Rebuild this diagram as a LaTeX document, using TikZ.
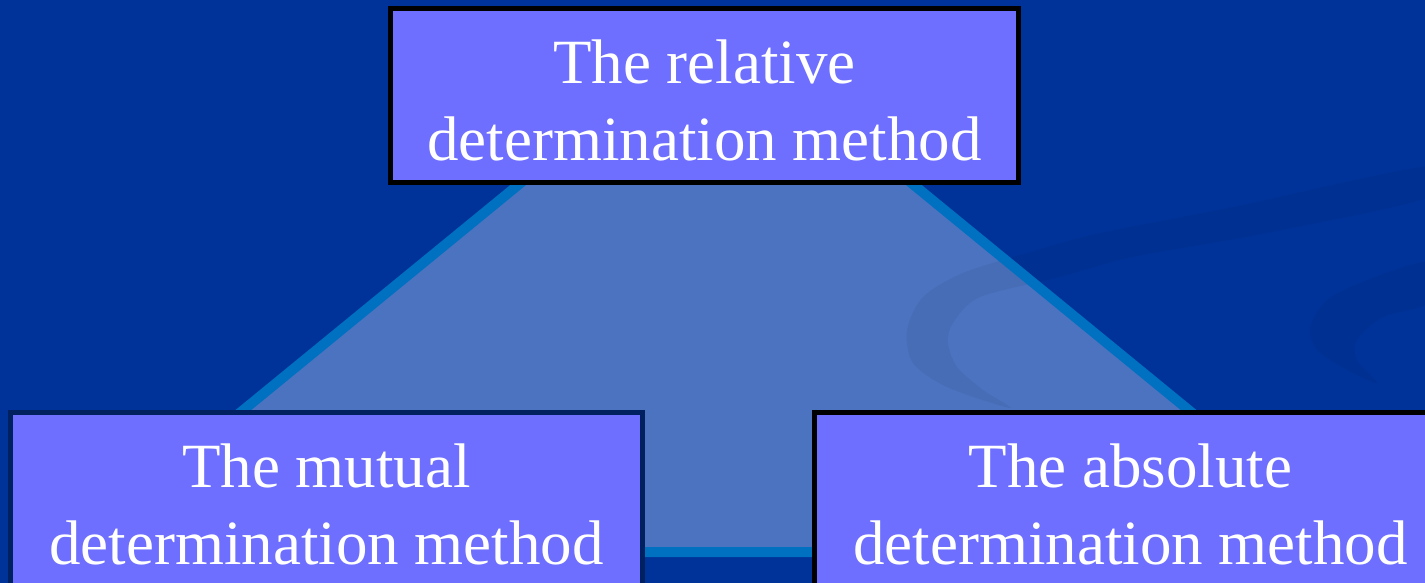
\documentclass[tikz,border=0pt]{standalone}
\usepackage{fontspec}
\setmainfont{Liberation Serif}
\usetikzlibrary{positioning}
\definecolor{SlideBg}{HTML}{003399}
\definecolor{TriFill}{HTML}{4B73C0}
\definecolor{TriEdge}{HTML}{0070C0}
\definecolor{BoxFill}{HTML}{6E6EFF}
\definecolor{BoxNavy}{HTML}{002060}

\begin{document}
\begin{tikzpicture}[
    x=1pt,y=-1pt,
    method/.style={draw=black,line width=5pt,fill=BoxFill,text=white,align=center,
      minimum width=632pt,minimum height=174pt,inner sep=0pt,text height=130pt,
      font=\fontsize{63}{77}\selectfont},
    swoosh/.style={fill=black,fill opacity=0.05}
  ]
    \useasboundingbox (0,0) rectangle (1425,583);
    \clip (0,0) rectangle (1425,583);
    \fill[SlideBg] (0,0) rectangle (1425,583);
    % triangle behind the boxes
    \coordinate (apex) at (716,23);
    \coordinate (bl) at (70,552);
    \coordinate (br) at (1362,552);
    \fill[TriFill] (apex)--(bl)--(br)--cycle;
    % background swooshes
    \fill[swoosh] plot[smooth cycle,tension=0.5] coordinates {(1430,166) (1233,207) (1100,233) (1027,253) (963,273) (923,297) (907,330) (913,363) (947,387) (1010,408)
      (983,390) (957,367) (948,343) (953,323) (980,297) (1060,277) (1133,257) (1267,233) (1430,197)};
    \fill[swoosh] plot[smooth cycle,tension=0.5] coordinates {(1430,262) (1367,280) (1327,300) (1310,327) (1317,350) (1347,370) (1377,383)
      (1357,360) (1357,340) (1383,317) (1430,302)};
    \draw[TriEdge,line width=10pt,line join=miter] (apex)--(bl)--(br)--cycle;
    \node[method,minimum width=628pt] (rel) at (704.5,95.5) {The relative\\determination method};
    \node[method,draw=BoxNavy] (mut) at (326.5,499.5) {The mutual\\determination method};
    \node[method] (abs) at (1130.5,499.5) {The absolute\\determination method};
  \end{tikzpicture}
\end{document}
